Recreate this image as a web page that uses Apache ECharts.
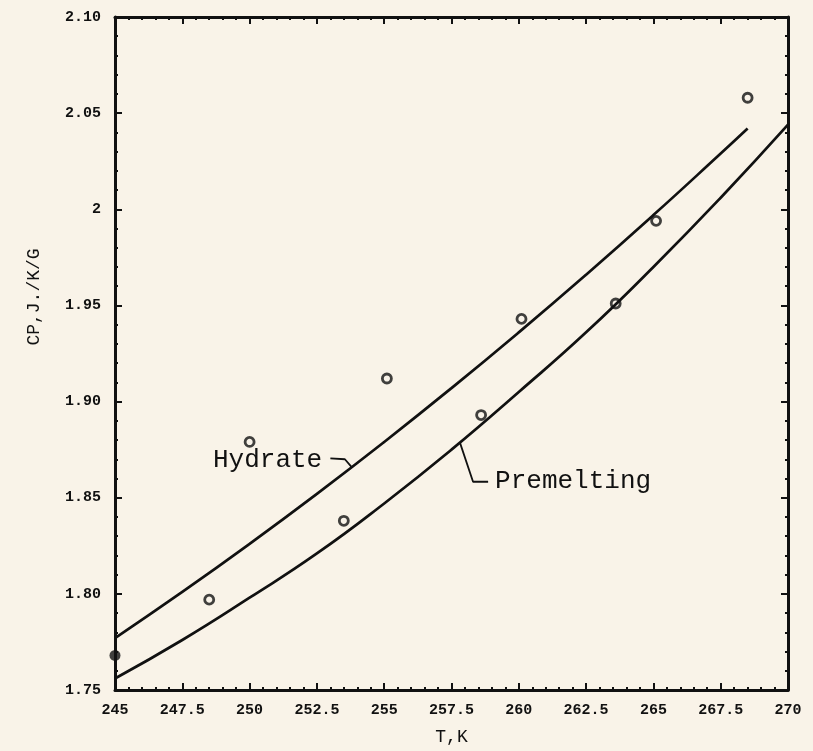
<!DOCTYPE html>
<html>
<head>
<meta charset="utf-8">
<script src="https://cdn.jsdelivr.net/npm/echarts@6/dist/echarts.min.js"></script>
<style>
  html, body { margin: 0; padding: 0; background: #f9f3e8; }
  #chart { width: 813px; height: 751px; }
</style>
</head>
<body>
<div id="chart"></div>
<script>
// Heat capacity of the hydrate vs temperature
const tempGrid = [245, 247.5, 250, 252.5, 255, 257.5, 260, 262.5, 265, 267.5, 268.5];
const hydrateCp = [1.777, 1.801, 1.826, 1.852, 1.879, 1.907, 1.936, 1.966, 1.997, 2.029, 2.042];

const premeltTemp = [245, 247.5, 250, 252.5, 255, 257.5, 260, 262.5, 265, 267.5, 270];
const premeltCp = [1.756, 1.776, 1.798, 1.821, 1.847, 1.875, 1.905, 1.936, 1.970, 2.006, 2.044];

// measured points
const measTemp = [248.5, 250.0, 253.5, 255.1, 258.6, 260.1, 263.6, 265.1, 268.5];
const measCp = [1.797, 1.879, 1.838, 1.912, 1.893, 1.943, 1.951, 1.994, 2.058];
const refTemp = [245];
const refCp = [1.768];

// callout anchors (data units)
const hydrateLeader = [[253.0, 1.8705], [253.54, 1.870], [253.8, 1.8658]];
const premeltLeader = [[257.82, 1.8784], [258.3, 1.8583], [258.86, 1.8583]];
const hydrateText = { t: 248.64, cp: 1.8693, label: 'Hydrate' };
const premeltText = { t: 259.12, cp: 1.8584, label: 'Premelting' };

const ink = '#111';
const paper = '#f9f3e8';
const pair = (xs, ys) => xs.map((x, i) => [x, ys[i]]);

const chart = echarts.init(document.getElementById('chart'));
const tickFont = { fontFamily: 'Liberation Mono', fontWeight: 'bold', fontSize: 15, color: ink };

const xBase = {
  type: 'value', min: 245, max: 270, interval: 2.5,
  axisLine: { show: true, lineStyle: { color: ink, width: 3 } },
  axisTick: { show: true, inside: true, length: 7, lineStyle: { color: ink, width: 2 } },
  minorTick: { show: true, splitNumber: 5, length: 3, lineStyle: { color: ink, width: 2 } },
  splitLine: { show: false }
};
const yBase = {
  type: 'value', min: 1.75, max: 2.10, interval: 0.05,
  axisLine: { show: true, lineStyle: { color: ink, width: 3 } },
  axisTick: { show: true, inside: true, length: 7, lineStyle: { color: ink, width: 2 } },
  minorTick: { show: true, splitNumber: 5, length: 3, lineStyle: { color: ink, width: 2 } },
  splitLine: { show: false }
};

chart.setOption({
  backgroundColor: paper,
  animation: false,
  grid: { left: 115, right: 25, top: 17, bottom: 59 },
  xAxis: [
    Object.assign({}, xBase, {
      position: 'bottom',
      name: 'T,K', nameLocation: 'middle', nameGap: 38,
      nameTextStyle: { fontFamily: 'Liberation Mono', fontSize: 18, color: ink },
      axisLabel: Object.assign({ margin: 13, formatter: v => String(v) }, tickFont)
    }),
    Object.assign({}, xBase, { position: 'top', axisLabel: { show: false } })
  ],
  yAxis: [
    Object.assign({}, yBase, {
      position: 'left',
      axisLabel: Object.assign({
        margin: 14,
        formatter: v => (Math.abs(v - 2) < 1e-9 ? '2' : v.toFixed(2))
      }, tickFont)
    }),
    Object.assign({}, yBase, { position: 'right', axisLabel: { show: false } })
  ],
  series: [
    {
      name: 'Hydrate', type: 'line', smooth: true, symbol: 'none',
      data: pair(tempGrid, hydrateCp),
      lineStyle: { color: ink, width: 2.7 }
    },
    {
      name: 'Premelting', type: 'line', smooth: true, symbol: 'none',
      data: pair(premeltTemp, premeltCp),
      lineStyle: { color: ink, width: 2.7 }
    },
    {
      name: 'measured', type: 'scatter', symbol: 'circle', symbolSize: 9,
      data: pair(measTemp, measCp),
      itemStyle: { color: paper, borderColor: ink, borderWidth: 2.8 }
    },
    {
      name: 'reference', type: 'scatter', symbol: 'circle', symbolSize: 11,
      data: pair(refTemp, refCp),
      itemStyle: { color: ink }, z: 5
    },
    {
      name: 'hydrate-callout', type: 'line', symbol: 'none', smooth: false,
      data: hydrateLeader, lineStyle: { color: ink, width: 1.8 }
    },
    {
      name: 'premelt-callout', type: 'line', symbol: 'none', smooth: false,
      data: premeltLeader, lineStyle: { color: ink, width: 1.8 }
    }
  ]
});

// callout texts positioned through the axes
function placeText(a) {
  const p = chart.convertToPixel({ xAxisIndex: 0, yAxisIndex: 0 }, [a.t, a.cp]);
  return {
    type: 'text', x: p[0], y: p[1],
    style: {
      text: a.label, fontFamily: 'Liberation Mono', fontSize: 26, fill: ink,
      textAlign: 'left', textVerticalAlign: 'middle'
    }
  };
}
chart.setOption({
  graphic: [
    placeText(hydrateText),
    placeText(premeltText),
    {
      // vertical axis title
      type: 'text', x: 34, y: 297, rotation: Math.PI / 2,
      style: {
        text: 'CP,J./K/G', fontFamily: 'Liberation Mono', fontSize: 18, fill: ink,
        textAlign: 'center', textVerticalAlign: 'middle'
      }
    }
  ]
});
</script>
</body>
</html>
